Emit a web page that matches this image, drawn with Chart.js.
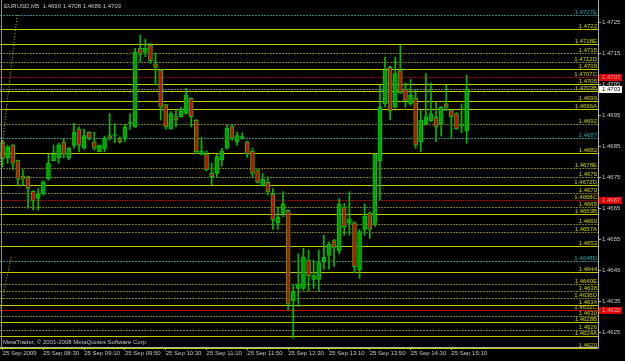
<!DOCTYPE html>
<html>
<head>
<meta charset="utf-8">
<script src="https://cdn.jsdelivr.net/npm/chart.js@4.4.0/dist/chart.umd.min.js"></script>
<style>
  html, body { margin: 0; padding: 0; background: #000; }
  #wrap { width: 625px; height: 361px; }
</style>
</head>
<body>
<div id="wrap"><canvas id="mt4Chart"></canvas></div>
<script>
// EURUSD M5, 25 Sep 2009 07:50 .. 15:25 (one entry per 5 minute bar)
const opens = [
  1.46865, 1.46813, 1.46854, 1.46806, 1.46754, 1.46752, 1.46705, 1.46682, 1.46698, 1.46744,
  1.46804, 1.46813, 1.46864, 1.46813, 1.46853, 1.46906, 1.46844, 1.46895, 1.46865, 1.46833,
  1.46842, 1.46885, 1.46885, 1.46876, 1.46876, 1.46924, 1.46913, 1.47166, 1.47153, 1.47177,
  1.47116, 1.47096, 1.46985, 1.46906, 1.46946, 1.46946, 1.46956, 1.47005, 1.46935, 1.46824,
  1.46825, 1.46763, 1.46763, 1.46806, 1.46844, 1.46916, 1.46865, 1.46878, 1.46865, 1.46835,
  1.46774, 1.46724, 1.46735, 1.46695, 1.46602, 1.46634, 1.46644, 1.46352, 1.46392, 1.46392,
  1.46483, 1.46421, 1.46421, 1.46478, 1.46499, 1.46546, 1.46513, 1.46655, 1.46602, 1.46604,
  1.46451, 1.46582, 1.46634, 1.46602, 1.46804, 1.46987, 1.47105, 1.46976, 1.47096, 1.47035,
  1.46987, 1.47005, 1.46865, 1.46922, 1.46933, 1.46944, 1.46922, 1.46987, 1.46967, 1.46956,
  1.46916, 1.4690
];
const highs = [
  1.46870, 1.46854, 1.46856, 1.46806, 1.46774, 1.46754, 1.46707, 1.46714, 1.46739, 1.46825,
  1.46854, 1.46860, 1.46876, 1.46847, 1.46924, 1.46913, 1.46906, 1.46897, 1.46896, 1.46854,
  1.46883, 1.46956, 1.46924, 1.46881, 1.46922, 1.46956, 1.47166, 1.47209, 1.47196, 1.47182,
  1.47150, 1.47098, 1.46985, 1.46962, 1.46967, 1.46976, 1.47037, 1.47007, 1.46937, 1.46879,
  1.46836, 1.46795, 1.46825, 1.46844, 1.46919, 1.46918, 1.46897, 1.46894, 1.46867, 1.46844,
  1.46776, 1.46763, 1.46752, 1.46714, 1.46655, 1.46704, 1.46645, 1.46403, 1.46503, 1.46521,
  1.46516, 1.46483, 1.46516, 1.46564, 1.46542, 1.46550, 1.46682, 1.46666, 1.46704, 1.46607,
  1.46582, 1.46664, 1.46639, 1.46827, 1.47048, 1.47137, 1.47109, 1.47137, 1.47177, 1.47055,
  1.47066, 1.47034, 1.46967, 1.47085, 1.47055, 1.46994, 1.46978, 1.47048, 1.46969, 1.46959,
  1.46987, 1.4708
];
const lows = [
  1.46784, 1.46795, 1.46774, 1.46725, 1.46725, 1.46650, 1.46645, 1.46645, 1.46693, 1.46741,
  1.46804, 1.46795, 1.46813, 1.46806, 1.46844, 1.46833, 1.46841, 1.46870, 1.46838, 1.46833,
  1.46833, 1.46870, 1.46862, 1.46860, 1.46865, 1.46905, 1.46911, 1.47123, 1.47139, 1.47118,
  1.47048, 1.46935, 1.46905, 1.46905, 1.46913, 1.46944, 1.46954, 1.46913, 1.46826, 1.46822,
  1.46771, 1.46725, 1.46752, 1.46787, 1.46841, 1.46870, 1.46854, 1.46873, 1.46814, 1.46752,
  1.46731, 1.46722, 1.46693, 1.46582, 1.46582, 1.46623, 1.46322, 1.46231, 1.46333, 1.46387,
  1.46384, 1.46392, 1.46384, 1.46453, 1.46453, 1.46462, 1.46503, 1.46564, 1.46564, 1.46442,
  1.46424, 1.46564, 1.46553, 1.46591, 1.46677, 1.46976, 1.46935, 1.46973, 1.47021, 1.46976,
  1.46983, 1.46844, 1.46833, 1.46919, 1.46930, 1.46865, 1.46883, 1.46965, 1.46876, 1.46905,
  1.46894, 1.4686
];
const closes = [
  1.46811, 1.46847, 1.46795, 1.46744, 1.46744, 1.46714, 1.46674, 1.46698, 1.46736, 1.46795,
  1.46825, 1.46854, 1.46824, 1.46844, 1.46896, 1.46854, 1.46885, 1.46876, 1.46844, 1.46854,
  1.46876, 1.46876, 1.46885, 1.46865, 1.46913, 1.46924, 1.47153, 1.47147, 1.47166, 1.47126,
  1.47105, 1.46976, 1.46913, 1.46956, 1.46935, 1.46970, 1.47016, 1.46946, 1.46833, 1.46835,
  1.46774, 1.46752, 1.46817, 1.46835, 1.46908, 1.46876, 1.46885, 1.46880, 1.46825, 1.46763,
  1.46734, 1.46744, 1.46703, 1.46614, 1.46623, 1.46665, 1.46341, 1.46381, 1.46406, 1.46492,
  1.46432, 1.46433, 1.46475, 1.46492, 1.46535, 1.46524, 1.46664, 1.46591, 1.46616, 1.46462,
  1.46575, 1.46625, 1.46582, 1.46825, 1.46976, 1.47096, 1.46965, 1.47085, 1.47023, 1.46996,
  1.47016, 1.46854, 1.46935, 1.46946, 1.46956, 1.46913, 1.46976, 1.46976, 1.46946, 1.46906,
  1.46916, 1.47034
];

// time axis: one label every 8 bars
const timeTicks = ['25 Sep 2009', '25 Sep 08:30', '25 Sep 09:10', '25 Sep 09:50', '25 Sep 10:30',
  '25 Sep 11:10', '25 Sep 11:50', '25 Sep 12:30', '25 Sep 13:10', '25 Sep 13:50',
  '25 Sep 14:30', '25 Sep 15:10'];
const priceTicks = [1.4625, 1.4635, 1.4645, 1.4655, 1.4665, 1.4675, 1.4685, 1.4695, 1.4705, 1.4715, 1.4725];

// horizontal level lines drawn by the indicator
const levelPrices = [
  1.47274, 1.47228, 1.47180, 1.47150, 1.47122, 1.47098, 1.47075, 1.47051, 1.47027, 1.46995,
  1.46969, 1.46922, 1.46877, 1.46827, 1.46781, 1.46752, 1.46724, 1.46700, 1.46677, 1.46655,
  1.46632, 1.46599, 1.46575, 1.46528, 1.46480, 1.46444, 1.46406, 1.46384, 1.46360, 1.46340,
  1.46321, 1.46304, 1.46284, 1.46257, 1.46238, 1.46200
];
const levelLabels = [
  '1.4727E', '1.4722', '1.4718E', '1.4715', '1.4712D', '1.4709', '1.4707C', '1.4705', '1.4703B', '1.4699',
  '1.4696A', '1.4692', '1.4687', '1.4682', '1.4678E', '1.4675', '1.4672D', '1.4670', '1.4668C', '1.4665',
  '1.4663B', '1.4660', '1.4657A', '1.4653', '1.4648D', '1.4644', '1.4640E', '1.4638', '1.4636D', '1.4634',
  '1.4632C', '1.4630', '1.4628B', '1.4626', '1.4624A', '1.4620'
];
const levelKinds = [
  'teal', 'main', 'main', 'minor', 'minor', 'main', 'red', 'main', 'main', 'main',
  'main', 'minor', 'teal', 'main', 'minor', 'minor', 'main', 'minor', 'red', 'minor',
  'main', 'minor', 'minor', 'main', 'teal', 'main', 'minor', 'minor', 'minor', 'main',
  'redSolid', 'minor', 'main', 'minor', 'main', 'main'
];
// prices shown in red boxes on the price axis
const alertPrices = [1.47075, 1.46677, 1.46321];
const alertLabels = ['1.4707', '1.4667', '1.4632'];

// two fan lines entering from the left edge (bar index, price)
const fanUpper = [[-0.5, 1.46790], [2.9, 1.47277]];
const fanLower = [[-0.5, 1.46320], [1.7, 1.46495]];

const FONT = '6px "Liberation Sans", Arial, sans-serif';
const styles = {
  main:     { color: '#c8c800', dash: [] },
  minor:    { color: '#7c7c00', dash: [2, 1] },
  teal:     { color: '#24888e', dash: [2, 1] },
  red:      { color: '#b00000', dash: [2, 1] },
  redSolid: { color: '#d00000', dash: [] }
};

const levelsPlugin = {
  id: 'levels',
  beforeDatasetsDraw(chart) {
    const { ctx, chartArea } = chart;
    const y = chart.scales.y;
    ctx.save();
    ctx.lineWidth = 1;
    levelPrices.forEach((p, i) => {
      const st = styles[levelKinds[i]];
      const py = Math.round(y.getPixelForValue(p)) + 0.5;
      ctx.strokeStyle = st.color;
      ctx.setLineDash(st.dash);
      ctx.beginPath();
      ctx.moveTo(chartArea.left, py);
      ctx.lineTo(chartArea.right, py);
      ctx.stroke();
    });
    // bid line
    const by = Math.round(y.getPixelForValue(closes[closes.length - 1])) + 0.5;
    ctx.strokeStyle = '#6a7890';
    ctx.setLineDash([2, 1]);
    ctx.beginPath();
    ctx.moveTo(chartArea.left, by);
    ctx.lineTo(chartArea.right, by);
    ctx.stroke();
    ctx.setLineDash([]);

    ctx.font = FONT;
    ctx.textAlign = 'right';
    ctx.textBaseline = 'bottom';
    levelPrices.forEach((p, i) => {
      const py = Math.round(y.getPixelForValue(p));
      ctx.fillStyle = levelKinds[i] === 'teal' ? '#2aa6ae' : '#d2d200';
      ctx.fillText(levelLabels[i], chartArea.right - 1, py);
    });
    ctx.restore();
  },
  afterDraw(chart) {
    const { ctx, chartArea } = chart;
    const y = chart.scales.y;
    ctx.save();
    // left frame line
    ctx.fillStyle = '#909090';
    ctx.fillRect(chartArea.left + 1, chartArea.top, 1, chartArea.bottom - chartArea.top);

    ctx.font = FONT;
    ctx.textBaseline = 'middle';
    ctx.textAlign = 'left';
    alertPrices.forEach((p, i) => {
      const py = Math.round(y.getPixelForValue(p));
      ctx.fillStyle = '#e00000';
      ctx.fillRect(chartArea.right + 1, py - 3, 23, 7);
      ctx.fillStyle = '#f0b0b0';
      ctx.fillText(alertLabels[i], chartArea.right + 4, py + 0.5);
    });
    const last = closes.length - 1;
    const by = Math.round(y.getPixelForValue(closes[last]));
    ctx.fillStyle = '#ffffff';
    ctx.fillRect(chartArea.right + 1, by - 3, 23, 7);
    ctx.fillStyle = '#000000';
    ctx.fillText(closes[last].toFixed(4), chartArea.right + 4, by + 0.5);

    // title and copyright
    ctx.fillStyle = '#c8c8c8';
    ctx.fillText('EURUSD,M5  ' + [opens[last], highs[last], lows[last], closes[last]].map(v => v.toFixed(4)).join(' '), 4, 6);
    ctx.fillText('MetaTrader, \u00a9 2001-2008 MetaQuotes Software Corp.', 3, chartArea.bottom - 5);
    ctx.restore();
  }
};

const idx = opens.map((o, i) => i);
const wickData = idx.map(i => ({ x: i, y: [lows[i], highs[i]] }));
const bodyData = idx.map(i => ({ x: i, y: [opens[i], closes[i]] }));
const bodyColors = idx.map(i => closes[i] >= opens[i] ? '#00a000' : '#dc0000');

const fanSet = (pts) => ({
  type: 'line',
  data: pts.map(p => ({ x: p[0], y: p[1] })),
  borderColor: '#c8c800',
  borderWidth: 1,
  borderDash: [1, 2],
  pointRadius: 0,
  order: 0
});

const fixPad = (s) => { s.paddingTop = 0; s.paddingBottom = 0; s.paddingLeft = 0; s.paddingRight = 0; };

new Chart(document.getElementById('mt4Chart'), {
  type: 'bar',
  data: {
    datasets: [
      {
        data: wickData,
        backgroundColor: '#00bc00',
        barThickness: 1,
        grouped: false,
        order: 2
      },
      {
        data: bodyData,
        backgroundColor: bodyColors,
        borderColor: '#00c800',
        borderWidth: 1,
        borderSkipped: false,
        barThickness: 4,
        minBarLength: 1,
        grouped: false,
        order: 1
      },
      fanSet(fanUpper),
      fanSet(fanLower)
    ]
  },
  options: {
    responsive: true,
    maintainAspectRatio: false,
    animation: false,
    events: [],
    layout: { padding: 0 },
    plugins: { legend: { display: false }, tooltip: { enabled: false } },
    scales: {
      x: {
        type: 'linear',
        offset: false,
        min: -0.5,
        max: 116.75,
        grid: { display: true, offset: false, drawOnChartArea: false, drawTicks: true, tickLength: 3, color: '#b0b0b0' },
        border: { display: true, color: '#b0b0b0' },
        afterBuildTicks: (axis) => { axis.ticks = timeTicks.map((t, i) => ({ value: i * 8 })); },
        afterFit: (s) => { s.height = 14; fixPad(s); },
        ticks: {
          autoSkip: false,
          maxRotation: 0,
          align: 'start',
          padding: 0,
          color: '#c8c8c8',
          font: { family: '"Liberation Sans", Arial, sans-serif', size: 6 },
          callback: (v) => timeTicks[Math.round(v / 8)]
        }
      },
      y: {
        position: 'right',
        min: 1.46203,
        max: 1.47322,
        grid: { display: true, drawOnChartArea: false, drawTicks: true, tickLength: 3, color: '#b0b0b0' },
        border: { display: true, color: '#b0b0b0' },
        afterBuildTicks: (axis) => { axis.ticks = priceTicks.map(v => ({ value: v })); },
        afterFit: (s) => { s.width = 27; fixPad(s); },
        ticks: {
          padding: 1,
          color: '#c8c8c8',
          font: { family: '"Liberation Sans", Arial, sans-serif', size: 6 },
          callback: (v) => v.toFixed(4)
        }
      }
    }
  },
  plugins: [levelsPlugin]
});
</script>
</body>
</html>
